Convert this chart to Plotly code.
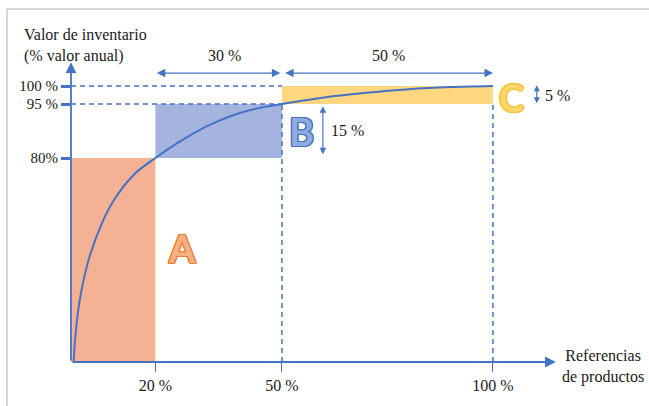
import plotly.graph_objects as go

# ABC inventory classification: cumulative share of product references
# against cumulative share of annual inventory value.
classes = ["A", "B", "C"]
cum_items = [20, 50, 100]     # % of product references (upper bound of each class)
cum_value = [80, 95, 100]     # % of annual inventory value (upper bound of each class)
x_tick_text = ["20 %", "50 %", "100 %"]
y_tick_text = ["80%", "95 %", "100 %"]

# Pareto curve
curve_x = [0, 0.5, 1, 2, 4, 7, 10, 15, 20, 25, 30, 35, 40, 45, 50,
           60, 70, 80, 90, 100]
curve_y = [0, 20, 30, 40, 51, 61, 68, 75.5, 80, 84, 87.5, 90.3, 92.5, 94, 95,
           96.8, 98.1, 99.1, 99.7, 100]

BLUE = "#4472C4"
TEXT = "#1a1a1a"
SERIF = "Liberation Serif"
FS = 16
fills = {"A": "#F4B193", "B": "#A5B4DE", "C": "#FFD781"}
letter_fill = {"A": "#F4B183", "B": "#8FAADC", "C": "#FFD766"}
letter_edge = {"A": "#ED7D31", "B": "#4472C4", "C": "#F5C02F"}

W, H = 649, 406
ML, MR, MT, MB = 71, 93, 62, 44
X_MAX = 114.95
Y_MIN, Y_MAX = 23.33, 106.67


def paper(px, py):
    """Pixel position in the page -> paper coordinates of the plot area."""
    pw, ph = W - ML - MR, H - MT - MB
    return (px - ML) / pw, (H - MB - py) / ph


fig = go.Figure()

# Class rectangles
shapes = []
prev_x, prev_y = 0, 0
for c, xi, yi in zip(classes, cum_items, cum_value):
    shapes.append(dict(type="rect", xref="x", yref="y", x0=prev_x, x1=xi,
                       y0=Y_MIN if prev_y == 0 else prev_y, y1=yi,
                       fillcolor=fills[c], line=dict(width=0), layer="below"))
    prev_x, prev_y = xi, yi

dash = dict(color=BLUE, width=1.5, dash="5px,4px")
# guide lines at 95 % and 100 % of value
shapes.append(dict(type="line", xref="x", yref="y", x0=0, x1=cum_items[1],
                   y0=cum_value[2], y1=cum_value[2], line=dash))
shapes.append(dict(type="line", xref="x", yref="y", x0=0, x1=cum_items[1],
                   y0=cum_value[1], y1=cum_value[1], line=dash))
# vertical guides at 50 % and 100 % of references
for xv in cum_items[1:]:
    shapes.append(dict(type="line", xref="x", yref="y", x0=xv, x1=xv,
                       y0=Y_MIN, y1=cum_value[1], line=dash))

# outer frame
fx0, fy0 = paper(7, 9)
fx1, fy1 = paper(W + 5, H + 5)
shapes.append(dict(type="line", xref="paper", yref="paper", x0=fx0, x1=fx1,
                   y0=fy0, y1=fy0, line=dict(color="#C8C8C8", width=1.5)))
shapes.append(dict(type="line", xref="paper", yref="paper", x0=fx0, x1=fx0,
                   y0=fy0, y1=fy1, line=dict(color="#C8C8C8", width=1.5)))

fig.add_trace(go.Scatter(x=curve_x, y=curve_y, mode="lines",
                         line=dict(color=BLUE, width=2, shape="spline", smoothing=0.8),
                         hoverinfo="skip", showlegend=False))

ann = []


def arrow(x, y, ax, ay, width=2, size=1.0, both=False):
    ann.append(dict(x=x, y=y, ax=ax, ay=ay, xref="x", yref="y", axref="x",
                    ayref="y", text="", showarrow=True, arrowhead=2,
                    arrowsize=size, arrowwidth=width, arrowcolor=BLUE,
                    arrowside="end+start" if both else "end",
                    startarrowhead=2, startarrowsize=size))


# axes with arrows
arrow(X_MAX - 0.05, Y_MIN, 0, Y_MIN, width=1.8, size=1.2)
arrow(0, Y_MAX - 0.05, 0, Y_MIN, width=1.8, size=1.2)

# spans of references (top) and value (right)
span_y = 103.6
arrow(cum_items[1] - 0.4, span_y, cum_items[0], span_y, width=1.2, size=1.4, both=True)
arrow(cum_items[2], span_y, cum_items[1] + 0.4, span_y, width=1.2, size=1.4, both=True)
arrow(59.7, cum_value[1] - 0.6, 59.7, cum_value[0] + 0.6, width=1.2, size=1.1, both=True)
arrow(110.4, cum_value[2] + 0.2, 110.4, cum_value[1] - 0.2, width=1.2, size=1.0, both=True)


def label(text, px, py, size=FS, xanchor="center", align="center"):
    x, y = paper(px, py)
    ann.append(dict(x=x, y=y, xref="paper", yref="paper", text=text,
                    showarrow=False, xanchor=xanchor, yanchor="middle",
                    align=align, font=dict(family=SERIF, size=size, color=TEXT)))


span_items = [cum_items[0]] + [b - a for a, b in zip(cum_items, cum_items[1:])]
span_value = [cum_value[0]] + [b - a for a, b in zip(cum_value, cum_value[1:])]
label(f"{span_items[1]} %", 224, 56)
label(f"{span_items[2]} %", 388, 56)
label(f"{span_value[1]} %", 329, 130, xanchor="left")
label(f"{span_value[2]} %", 543, 96, xanchor="left")
label("Valor de inventario<br>(% valor anual)", 22, 45, xanchor="left", align="left")
label("Referencias<br>de productos", 603, 366)

# class letters
letter_pos = {"A": (26.3, 55.0), "B": (54.7, 87.5), "C": (104.5, 96.9)}
for c in classes:
    e = letter_edge[c]
    shadow = ", ".join(f"{dx}px {dy}px 0 {e}" for dx, dy in
                       [(-1, -1), (1, -1), (-1, 1), (1, 1), (0, 1.2), (0, -1.2), (1.2, 0), (-1.2, 0)])
    ann.append(dict(x=letter_pos[c][0], y=letter_pos[c][1], xref="x", yref="y",
                    text=c, showarrow=False,
                    font=dict(family="Lato", size=38, color=letter_fill[c],
                              weight="bold", shadow=shadow)))

fig.update_layout(
    width=W, height=H,
    margin=dict(l=ML, r=MR, t=MT, b=MB, pad=0),
    paper_bgcolor="white", plot_bgcolor="rgba(0,0,0,0)",
    shapes=shapes, annotations=ann, showlegend=False,
    xaxis=dict(range=[0, X_MAX], showgrid=False, zeroline=False, showline=False,
               tickmode="array", tickvals=cum_items, ticktext=x_tick_text,
               ticks="outside", ticklen=9, tickwidth=1, tickcolor=BLUE,
               tickfont=dict(family=SERIF, size=FS, color=TEXT), fixedrange=True),
    yaxis=dict(range=[Y_MIN, Y_MAX], showgrid=False, zeroline=False, showline=False,
               tickmode="array", tickvals=cum_value, ticktext=y_tick_text,
               ticks="outside", ticklen=9, tickwidth=3, tickcolor=BLUE,
               tickfont=dict(family=SERIF, size=15, color=TEXT), fixedrange=True),
)

fig.write_html("out.html")
